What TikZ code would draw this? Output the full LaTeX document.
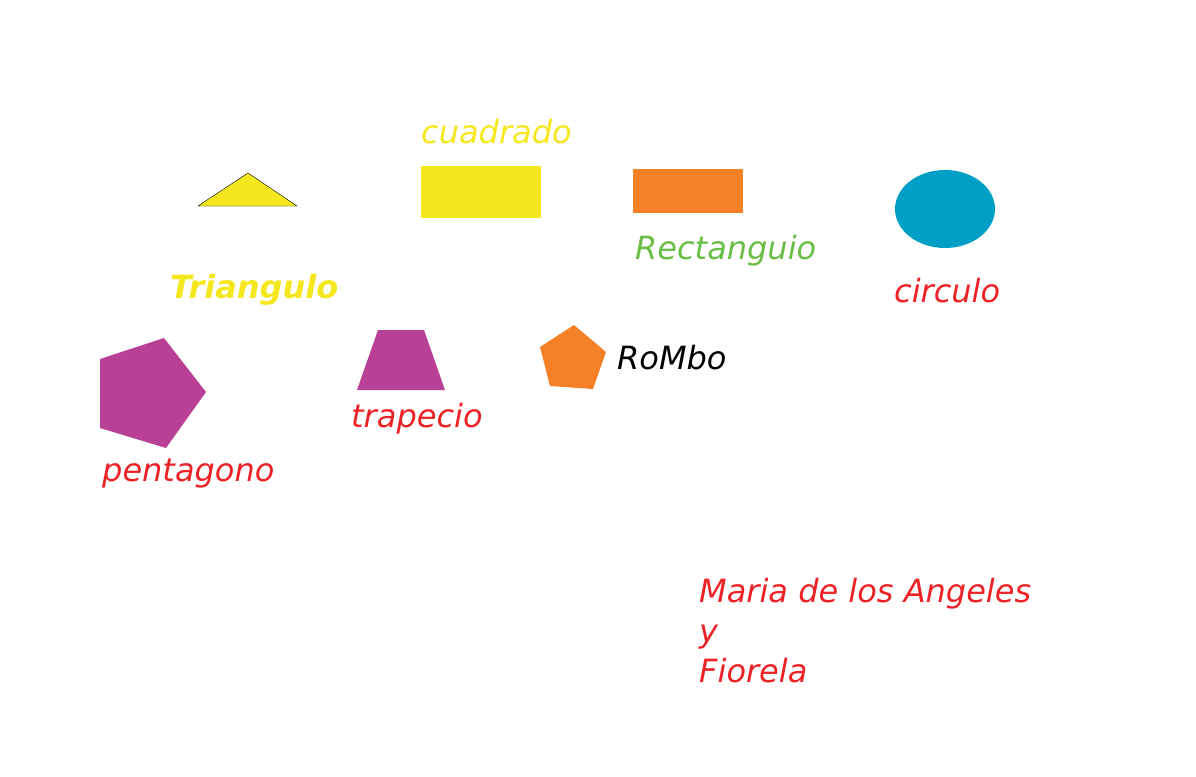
\documentclass[tikz,border=0pt]{standalone}
\usepackage{fontspec}
\setmainfont{DejaVu Sans}
\definecolor{amarillo}{HTML}{F5E71D}
\definecolor{verde}{HTML}{6ABD45}
\definecolor{rojo}{HTML}{ED2227}
\definecolor{naranja}{HTML}{F58025}
\definecolor{morado}{HTML}{B84196}
\definecolor{celeste}{HTML}{00A0C6}
\tikzset{
    % label style
    etiqueta/.style={
             inner sep=0pt, anchor=base west,
             font=\fontsize{32}{40}\selectfont\itshape}
}
\begin{document}
\begin{tikzpicture}[x=1pt,y=-1pt]
 \useasboundingbox (0,0) rectangle (1196,776);
 % shapes
 \fill[amarillo,draw=black] (198,206) -- (248,173) -- (297,206) -- cycle;
 \fill[amarillo] (421,166) rectangle (541,218);
 \fill[naranja] (633,169) rectangle (743,213);
 \fill[celeste] (945,209) ellipse [x radius=50, y radius=39];
 \fill[morado] (100,359) -- (164,338) -- (206,392) -- (166,448) -- (100,428) -- cycle;
 \fill[morado] (357,390) -- (378,330) -- (424,330) -- (445,390) -- cycle;
 \fill[naranja] (540,347) -- (574,325) -- (606,352) -- (593,389) -- (550,386) -- cycle;
 % labels
 \node[etiqueta, text=amarillo] (cuadrado) at (421,143) {cuadrado};
 \node[etiqueta, text=amarillo, font=\fontsize{32}{40}\selectfont\bfseries\itshape] (triangulo) at (170,298) {Triangulo};
 \node[etiqueta, text=verde] (rectangulo) at (635,259) {Rectanguio};
 \node[etiqueta, text=rojo] (circulo) at (894,302) {circulo};
 \node[etiqueta] (rombo) at (617,369) {RoMbo};
 \node[etiqueta, text=rojo] (trapecio) at (351,427) {trapecio};
 \node[etiqueta, text=rojo] (pentagono) at (102,481) {pentagono};
 \node[etiqueta, text=rojo, align=left, anchor=north west] (autoras) at (699,578) {Maria de los Angeles\\y\\Fiorela};
\end{tikzpicture}
\end{document}
